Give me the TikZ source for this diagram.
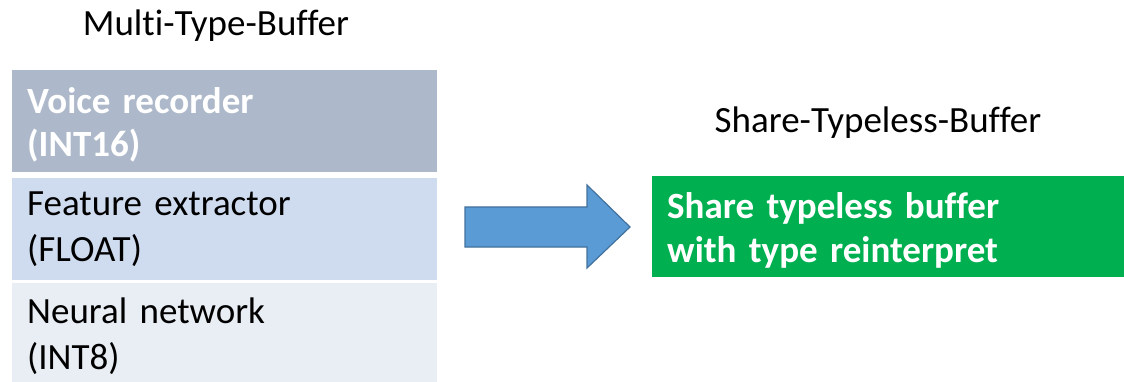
\documentclass[tikz,border=0pt]{standalone}
\usepackage{fontspec}
\setmainfont{Carlito}[Ligatures=NoCommon]
\usepackage{tikz}
\definecolor{rowdark}{RGB}{173, 185, 202}
\definecolor{rowmid}{RGB}{207, 219, 238}
\definecolor{rowlight}{RGB}{233, 237, 244}
\definecolor{arrowfill}{RGB}{91, 155, 213}
\definecolor{arrowedge}{RGB}{65, 113, 156}
\definecolor{sharegreen}{RGB}{0, 176, 80}
\newcommand{\toprule}{\rule{0pt}{34pt}}

\begin{document}
\begin{tikzpicture}[x=1pt, y=-1pt,
    row/.style={anchor=north west, minimum width=425pt, text width=395pt,
      inner xsep=15pt, inner ysep=0pt, align=left,
      font=\fontsize{37}{46}\selectfont},
    title/.style={font=\fontsize{37}{46}\selectfont, anchor=base}]
  \clip (0, 0) rectangle (1124, 382);

  % buffer table on the left
  \node[row, fill=rowdark, text=white, minimum height=102pt,
    font=\fontsize{37}{43}\selectfont\bfseries] (voice) at (12, 70)
    {\toprule Voice recorder\\(INT16)};
  \node[row, fill=rowmid, minimum height=102pt] (feature) at (12, 178)
    {Feature extractor\\(FLOAT)};
  \node[row, fill=rowlight, minimum height=106pt] (neural) at (12, 283)
    {Neural network\\(INT8)};
  \node[title] (multi) at (216, 36) {Multi-Type-Buffer};

  % shared buffer on the right
  \node[row, fill=sharegreen, text=white, minimum width=480pt, text width=450pt,
    minimum height=101pt, font=\fontsize{37}{44}\selectfont\bfseries] (share) at (652, 176)
    {\toprule Share typeless buffer\\with type reinterpret};
  \node[title] (sharetitle) at (878, 133) {Share-Typeless-Buffer};

  % block arrow between the two
  \coordinate (conv) at (465, 227);
  \filldraw[fill=arrowfill, draw=arrowedge, line width=1.2pt, line join=miter]
    (conv) ++(0, -20) -- ++(122, 0) -- ++(0, -22) -- ++(43, 42)
    -- ++(-43, 41) -- ++(0, -21) -- ++(-122, 0) -- cycle;
\end{tikzpicture}
\end{document}
